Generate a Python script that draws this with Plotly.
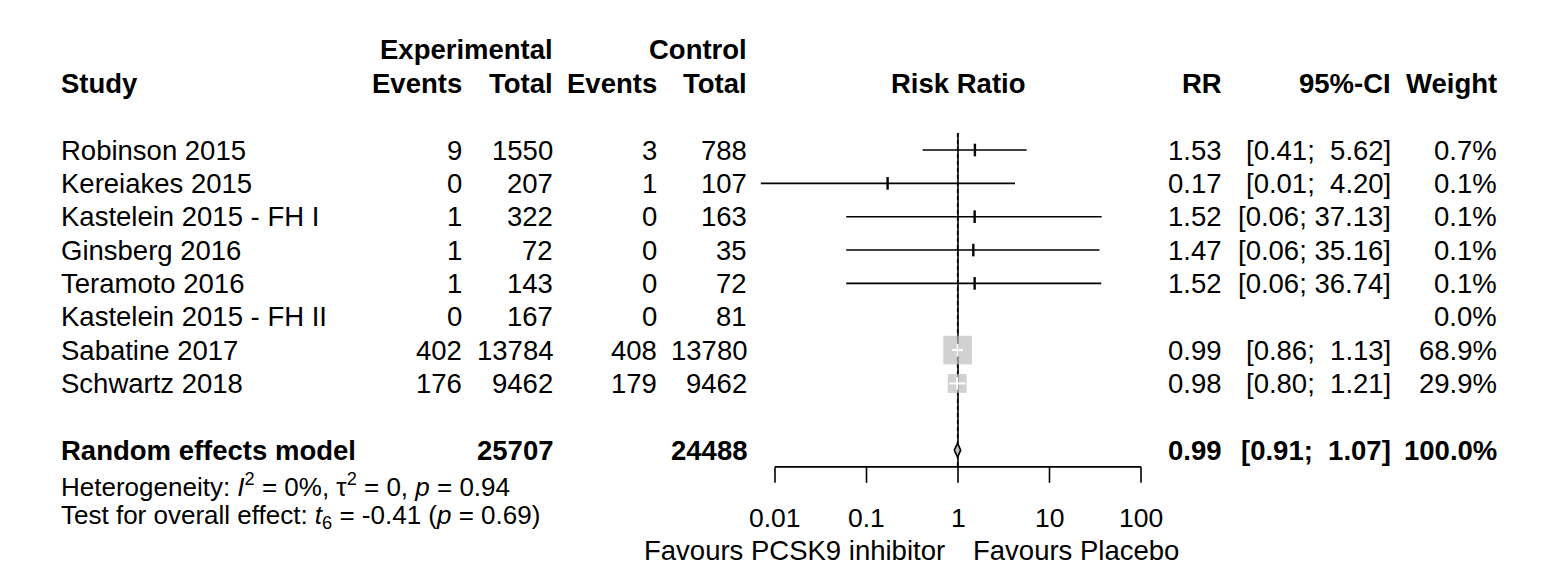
import math
import plotly.graph_objects as go

# ---------------- data ----------------
studies = ["Robinson 2015", "Kereiakes 2015", "Kastelein 2015 - FH I", "Ginsberg 2016",
           "Teramoto 2016", "Kastelein 2015 - FH II", "Sabatine 2017", "Schwartz 2018"]
exp_events = [9, 0, 1, 1, 1, 0, 402, 176]
exp_total = [1550, 207, 322, 72, 143, 167, 13784, 9462]
ctrl_events = [3, 1, 0, 0, 0, 0, 408, 179]
ctrl_total = [788, 107, 163, 35, 72, 81, 13780, 9462]
rr = [1.53, 0.17, 1.52, 1.47, 1.52, None, 0.99, 0.98]
ci_lower = [0.41, 0.007, 0.06, 0.06, 0.06, None, 0.86, 0.80]
ci_upper = [5.62, 4.20, 37.13, 35.16, 36.74, None, 1.13, 1.21]
weight = [0.7, 0.1, 0.1, 0.1, 0.1, 0.0, 68.9, 29.9]

pooled_label = "Random effects model"
pooled_exp_total = 25707
pooled_ctrl_total = 24488
pooled_rr = 0.99
pooled_lower = 0.91
pooled_upper = 1.07
pooled_weight = 100.0

het_text = "Heterogeneity: <i>I</i><sup>2</sup> = 0%, \u03c4<sup>2</sup> = 0, <i>p</i> = 0.94"
test_text = "Test for overall effect: <i>t</i><sub>6</sub> = -0.41 (<i>p</i> = 0.69)"
label_left = "Favours PCSK9 inhibitor"
label_right = "Favours Placebo"

tick_values = [0.01, 0.1, 1, 10, 100]
tick_labels = ["0.01", "0.1", "1", "10", "100"]

# ---------------- layout constants ----------------
W, H = 1559, 582
FONT = "Liberation Sans, Arial, sans-serif"
FS = 27.5
FS_STAT = 26.0
FS_TICK = 26.5
ROW0_PX, ROW_H = 150.0, 33.35
X1_PX, DEC_PX = 958.0, 91.5
XDOM_PX = (740.0, 1160.0)
NBSP = "\u00a0"

pooled_row = len(studies) + 1
axis_row = pooled_row + 0.5
het_row = pooled_row + 1.05
test_row = pooled_row + 2
tick_row = pooled_row + 2.03
fav_row = pooled_row + 3.02

fig = go.Figure()
ann = []


def px(x):
    return x / W


def add_text(x_px, row, text, anchor="right", bold=False, size=FS):
    if bold:
        text = "<b>" + text + "</b>"
    ann.append(dict(x=px(x_px), xref="paper", y=row, yref="y", text=text,
                    xanchor=anchor, yanchor="middle", showarrow=False,
                    font=dict(family=FONT, size=size, color="black"),
                    borderpad=0, borderwidth=0))


# headers
add_text(553, -3, "Experimental", bold=True)
add_text(747, -3, "Control", bold=True)
add_text(61, -2, "Study", anchor="left", bold=True)
add_text(462, -2, "Events", bold=True)
add_text(553, -2, "Total", bold=True)
add_text(657, -2, "Events", bold=True)
add_text(747, -2, "Total", bold=True)
add_text(X1_PX, -2, "Risk Ratio", anchor="center", bold=True)
add_text(1222, -2, "RR", bold=True)
add_text(1391, -2, "95%-CI", bold=True)
add_text(1497, -2, "Weight", bold=True)


def ci_str(lo, hi):
    return ("[%.2f; %5.2f]" % (lo, hi)).replace(" ", NBSP)


for i, name in enumerate(studies):
    add_text(61, i, name, anchor="left")
    add_text(462, i, str(exp_events[i]))
    add_text(553, i, str(exp_total[i]))
    add_text(657, i, str(ctrl_events[i]))
    add_text(747, i, str(ctrl_total[i]))
    if rr[i] is not None:
        add_text(1222, i, "%.2f" % rr[i])
        add_text(1391, i, ci_str(ci_lower[i], ci_upper[i]))
    add_text(1497, i, "%.1f%%" % weight[i])

# pooled row
add_text(61, pooled_row, pooled_label, anchor="left", bold=True)
add_text(553, pooled_row, str(pooled_exp_total), bold=True)
add_text(747, pooled_row, str(pooled_ctrl_total), bold=True)
add_text(1222, pooled_row, "%.2f" % pooled_rr, bold=True)
add_text(1391, pooled_row, ci_str(pooled_lower, pooled_upper), bold=True)
add_text(1497, pooled_row, "%.1f%%" % pooled_weight, bold=True)

add_text(61, het_row, het_text, anchor="left", size=FS_STAT)
add_text(61, test_row, test_text, anchor="left", size=FS_STAT)
add_text(945, fav_row, label_left, anchor="right")
add_text(973, fav_row, label_right, anchor="left")

# tick labels through the log x axis
for t, lab in zip(tick_values, tick_labels):
    ann.append(dict(x=math.log10(t), xref="x", y=tick_row, yref="y", text=lab,
                    xanchor="center", yanchor="middle", showarrow=False,
                    font=dict(family=FONT, size=FS_TICK, color="black"),
                    borderpad=0, borderwidth=0))

# ---------------- forest graphics ----------------
top_row = -0.51
# reference line at 1 (no effect)
fig.add_trace(go.Scatter(x=[1, 1], y=[top_row, axis_row], mode="lines",
                         line=dict(color="black", width=1.6), hoverinfo="skip"))
# dashed line at pooled estimate
fig.add_trace(go.Scatter(x=[pooled_rr, pooled_rr], y=[top_row, axis_row], mode="lines",
                         line=dict(color="black", width=1.4, dash="4px,3px"), hoverinfo="skip"))

SQ_K = 3.45
valid = [i for i in range(len(studies)) if rr[i] is not None]
big, small = [], []
for i in valid:
    size = SQ_K * math.sqrt(weight[i])
    half = size / 2.0
    lo_px = DEC_PX * math.log10(rr[i] / ci_lower[i])
    hi_px = DEC_PX * math.log10(ci_upper[i] / rr[i])
    if size >= 8 and lo_px <= half and hi_px <= half:
        big.append(i)
    else:
        small.append(i)

# black CI lines
xs, ys = [], []
for i in small:
    xs += [ci_lower[i], ci_upper[i], None]
    ys += [i, i, None]
fig.add_trace(go.Scatter(x=xs, y=ys, mode="lines", line=dict(color="black", width=1.6),
                         hoverinfo="skip"))
# small point estimate ticks
fig.add_trace(go.Scatter(x=[rr[i] for i in small], y=small, mode="markers",
                         marker=dict(symbol="line-ns", size=9, color="black",
                                     line=dict(color="black", width=2.4)),
                         hoverinfo="skip"))
# weighted squares
fig.add_trace(go.Scatter(x=[rr[i] for i in big], y=big, mode="markers",
                         marker=dict(symbol="square", size=[SQ_K * math.sqrt(weight[i]) for i in big],
                                     color="#BEBEBE", line=dict(width=0)),
                         hoverinfo="skip"))
# white CI inside squares
xs, ys = [], []
for i in big:
    xs += [ci_lower[i], ci_upper[i], None]
    ys += [i, i, None]
fig.add_trace(go.Scatter(x=xs, y=ys, mode="lines", line=dict(color="white", width=2),
                         hoverinfo="skip"))
fig.add_trace(go.Scatter(x=[rr[i] for i in big], y=big, mode="markers",
                         marker=dict(symbol="line-ns", size=9, color="white",
                                     line=dict(color="white", width=2)),
                         hoverinfo="skip"))

# diamond for pooled estimate
dh = 0.21
fig.add_trace(go.Scatter(x=[pooled_lower, pooled_rr, pooled_upper, pooled_rr, pooled_lower],
                         y=[pooled_row, pooled_row - dh, pooled_row, pooled_row + dh, pooled_row],
                         mode="lines", fill="toself", fillcolor="#BEBEBE",
                         line=dict(color="black", width=1.6), hoverinfo="skip"))

# x axis (drawn manually, R style)
tick_len = 16.0 / ROW_H
xs = [tick_values[0], tick_values[-1], None]
ys = [axis_row, axis_row, None]
for t in tick_values:
    xs += [t, t, None]
    ys += [axis_row, axis_row + tick_len, None]
fig.add_trace(go.Scatter(x=xs, y=ys, mode="lines", line=dict(color="black", width=1.6),
                         hoverinfo="skip"))

xr = [(XDOM_PX[0] - X1_PX) / DEC_PX, (XDOM_PX[1] - X1_PX) / DEC_PX]
yr = [(H - ROW0_PX) / ROW_H, (0 - ROW0_PX) / ROW_H]

fig.update_layout(
    width=W, height=H,
    margin=dict(l=0, r=0, t=0, b=0, pad=0),
    paper_bgcolor="white", plot_bgcolor="white",
    showlegend=False,
    xaxis=dict(type="log", range=xr, domain=[XDOM_PX[0] / W, XDOM_PX[1] / W],
               visible=False, showgrid=False, zeroline=False),
    yaxis=dict(range=yr, domain=[0, 1], visible=False, showgrid=False, zeroline=False),
    annotations=ann,
    font=dict(family=FONT, color="black"),
)

fig.write_html("out.html")
